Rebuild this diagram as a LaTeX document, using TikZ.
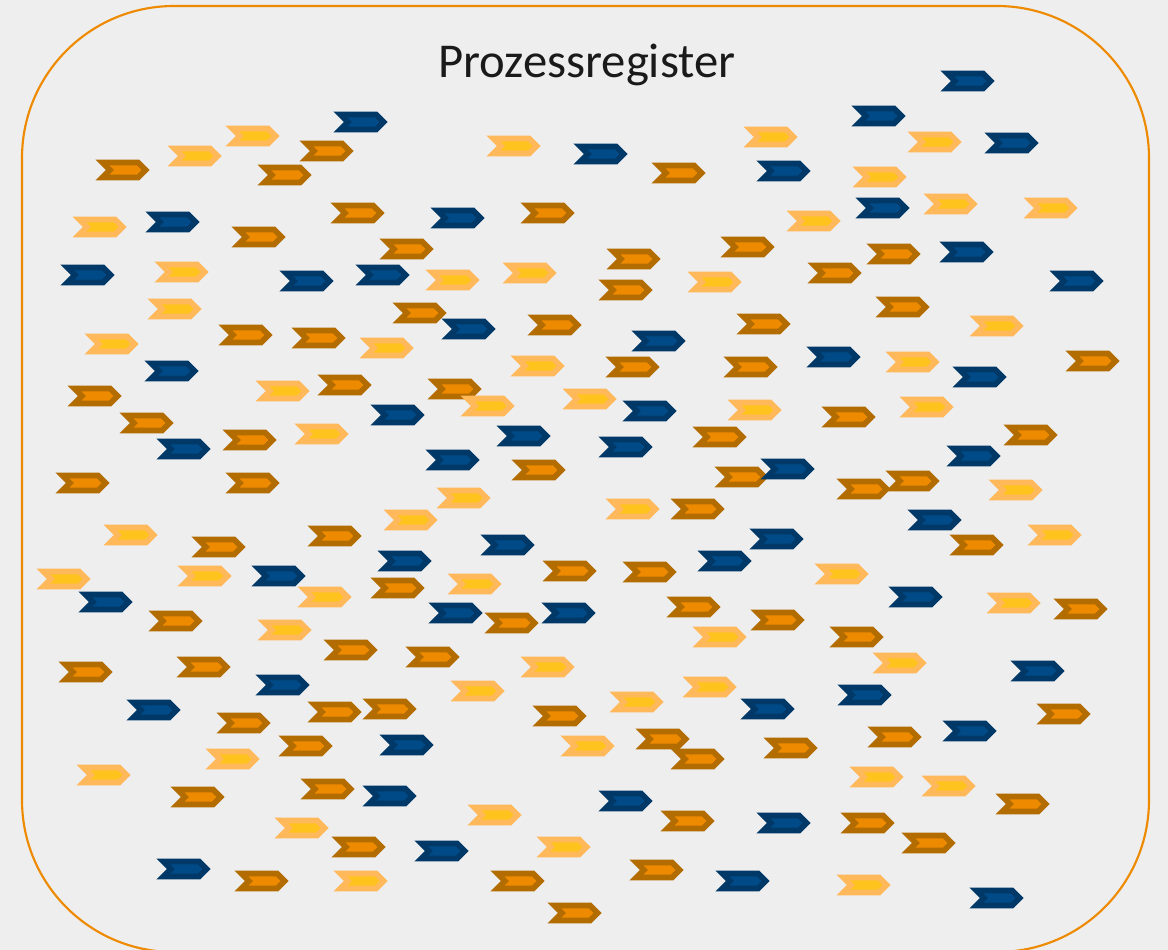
\documentclass[tikz,border=0pt]{standalone}
\usepackage{fontspec}
\setmainfont{Carlito}
\usetikzlibrary{shapes.symbols}
\definecolor{bgray}{HTML}{EEEEEE}
\definecolor{frameorange}{HTML}{EE8A00}
\definecolor{titleblack}{HTML}{1A1A1A}
\definecolor{oline}{HTML}{B36C00}
\definecolor{ofill}{HTML}{EE8A00}
\definecolor{lline}{HTML}{FFB85A}
\definecolor{lfill}{HTML}{FFC31E}
\definecolor{bline}{HTML}{003868}
\definecolor{bfill}{HTML}{004B87}

\tikzset{
  chev/.style={signal, signal to=east, signal from=west, minimum width=32.5pt,
    minimum height=11.25pt, inner sep=0pt, outer sep=0pt, line width=4.3pt},
  chevO/.style={chev, draw=oline, fill=ofill},
  chevL/.style={chev, draw=lline, fill=lfill},
  chevB/.style={chev, draw=bline, fill=bfill},
}

\begin{document}
\begin{tikzpicture}[x=0.75pt, y=-0.75pt]
  \fill[bgray] (0,0) rectangle (1168,950);
  \useasboundingbox (0,0) rectangle (1168,950);
  \draw[frameorange, line width=1.6pt, rounded corners=114pt] (22,6) rectangle (1149,952);

  \node[anchor=base, text=titleblack, font=\fontsize{36.5}{40}\selectfont] (title) at (587,77) {Prozessregister};

  \foreach \x/\y [count=\i] in {328/151, 124/170, 286/175, 680/173, 359/213, 549/213, 260/237, 408/249,
      749/247, 895/254, 635/259, 836/273, 627/290, 904/307, 421/313, 765/324, 556/325, 247/335,
      320/338, 1094/361, 634/367, 752/367, 346/385, 456/389, 96/396, 850/417, 148/423, 1032/435,
      721/437, 251/440, 540/470, 743/477, 865/489, 914/481, 84/483, 254/483, 699/509, 336/536,
      978/545, 220/547, 571/571, 651/572, 399/588, 695/607, 1082/609, 513/623, 177/621, 779/620,
      858/637, 352/650, 434/657, 205/667, 87/672, 391/709, 336/712, 1065/714, 561/716, 245/723,
      896/737, 664/739, 307/746, 792/748, 699/759, 329/789, 199/797, 1024/804, 689/821, 869/823,
      930/843, 360/847, 658/870, 263/881, 519/881, 576/913}
    \node[chevO] (o\i) at (\x,\y) {};

  \foreach \x/\y [count=\i] in {254/136, 772/137, 936/142, 515/146, 196/156, 881/177, 952/204,
      1052/208, 815/221, 101/227, 183/272, 531/273, 454/280, 716/282, 176/309, 998/326, 113/344,
      388/348, 914/362, 539/366, 284/391, 591/399, 489/406, 928/407, 756/410, 323/434, 1017/490,
      465/498, 634/509, 412/520, 132/535, 1056/535, 843/574, 206/576, 65/579, 476/584, 326/597,
      1015/603, 286/630, 721/637, 901/663, 549/667, 711/687, 479/691, 638/702, 589/746, 234/759,
      105/775, 878/777, 950/786, 496/815, 303/828, 565/847, 362/881, 865/885}
    \node[chevL] (l\i) at (\x,\y) {};

  \foreach \x/\y [count=\i] in {969/81, 880/116, 362/122, 1013/143, 602/154, 785/171, 884/208,
      459/218, 174/222, 968/252, 89/275, 384/275, 308/281, 1078/281, 470/329, 660/341, 835/357,
      173/371, 981/377, 651/411, 399/415, 525/436, 627/447, 185/449, 975/456, 454/460, 789/469,
      936/520, 778/539, 509/545, 406/561, 726/561, 280/576, 917/597, 107/602, 457/613, 570/613,
      1039/671, 284/685, 866/695, 155/710, 769/709, 971/731, 408/745, 391/796, 627/801, 785/823,
      443/851, 185/869, 744/881, 998/898}
    \node[chevB] (b\i) at (\x,\y) {};
\end{tikzpicture}
\end{document}
